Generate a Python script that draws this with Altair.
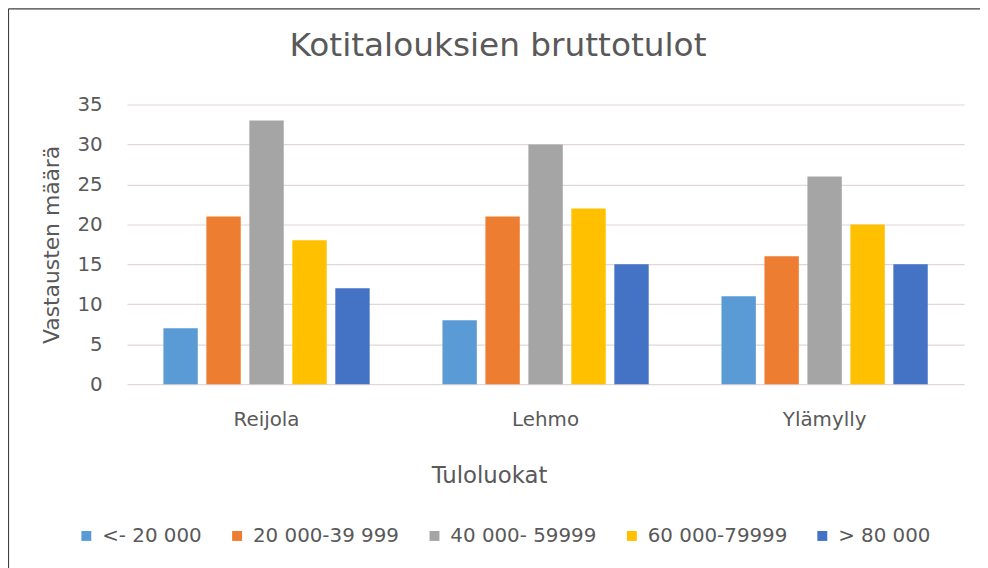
import altair as alt
import pandas as pd

# ---- data ----
regions = ["Reijola", "Lehmo", "Ylämylly"]
classes = ["<- 20 000", "20 000-39 999", "40 000- 59999", "60 000-79999", "> 80 000"]
v_lt20 = [7, 8, 11]
v_20_40 = [21, 21, 16]
v_40_60 = [33, 30, 26]
v_60_80 = [18, 22, 20]
v_gt80 = [12, 15, 15]
colors = ["#5b9bd5", "#ed7d31", "#a5a5a5", "#ffc000", "#4472c4"]

series = [v_lt20, v_20_40, v_40_60, v_60_80, v_gt80]
rows = []
for cls, vals in zip(classes, series):
    for reg, v in zip(regions, vals):
        rows.append({"Alue": reg, "Tuloluokka": cls, "Määrä": v})
df = pd.DataFrame(rows)

FONT = "DejaVu Sans"
TXT = "#595959"

bars = alt.Chart(df).mark_bar().encode(
    x=alt.X(
        "Alue:N",
        sort=regions,
        scale=alt.Scale(paddingInner=0.23, paddingOuter=0.115),
        axis=alt.Axis(
            title="Tuloluokat",
            labelAngle=0,
            labelFontSize=20,
            labelColor=TXT,
            labelFont=FONT,
            labelPadding=26,
            ticks=False,
            tickSize=0,
            domain=False,
            grid=False,
            titleFontSize=23,
            titleFont=FONT,
            titleColor=TXT,
            titleFontWeight="normal",
            titleX=365,
            titleY=92,
            titleBaseline="middle",
            titleAlign="center",
        ),
    ),
    xOffset=alt.XOffset(
        "Tuloluokka:N",
        sort=classes,
        scale=alt.Scale(paddingInner=0.2, paddingOuter=0.1),
    ),
    y=alt.Y(
        "Määrä:Q",
        scale=alt.Scale(domain=[0, 35], nice=False),
        axis=alt.Axis(
            title="Vastausten määrä",
            values=[0, 5, 10, 15, 20, 25, 30, 35],
            labelFontSize=20,
            labelColor=TXT,
            labelFont=FONT,
            labelPadding=25,
            ticks=False,
            tickSize=0,
            domain=False,
            grid=True,
            gridColor="#e2d6d6",
            gridWidth=1.2,
            titleFontSize=22,
            titleFont=FONT,
            titleColor=TXT,
            titleFontWeight="normal",
            titleAngle=-90,
            titleX=-76,
            titleY=141,
            titleBaseline="middle",
            titleAlign="center",
        ),
    ),
    color=alt.Color(
        "Tuloluokka:N",
        sort=classes,
        scale=alt.Scale(domain=classes, range=colors),
        legend=alt.Legend(
            title=None,
            orient="none",
            legendX=-51,
            legendY=425,
            direction="horizontal",
            columns=5,
            symbolType="square",
            symbolSize=100,
            symbolStrokeWidth=0,
            labelFontSize=20,
            labelFont=FONT,
            labelColor=TXT,
            labelOffset=6,
            columnPadding=25,
        ),
    ),
)

one = pd.DataFrame({"f": [0]})
frame_top = alt.Chart(one).mark_rule(color="#404040", strokeWidth=1.2).encode(
    x=alt.value(-119.5), x2=alt.value(1200), y=alt.value(-96.5)
)
frame_left = alt.Chart(one).mark_rule(color="#404040", strokeWidth=1.2).encode(
    x=alt.value(-119.5), y=alt.value(-96.5), y2=alt.value(800)
)

chart = alt.layer(bars, frame_top, frame_left).properties(
    width=844,
    height=282,
    padding={"left": 120, "top": 95, "right": 16, "bottom": 183},
    autosize=alt.AutoSizeParams(type="none"),
    background="white",
    title=alt.TitleParams(
        "Kotitalouksien bruttotulot",
        fontSize=33,
        font=FONT,
        color=TXT,
        fontWeight="normal",
        anchor="middle",
        frame="group",
        dx=-48,
        offset=-88,
        baseline="bottom",
    ),
).configure_view(stroke=None)

chart.save("out.html", embed_options={"renderer": "svg", "actions": False})
